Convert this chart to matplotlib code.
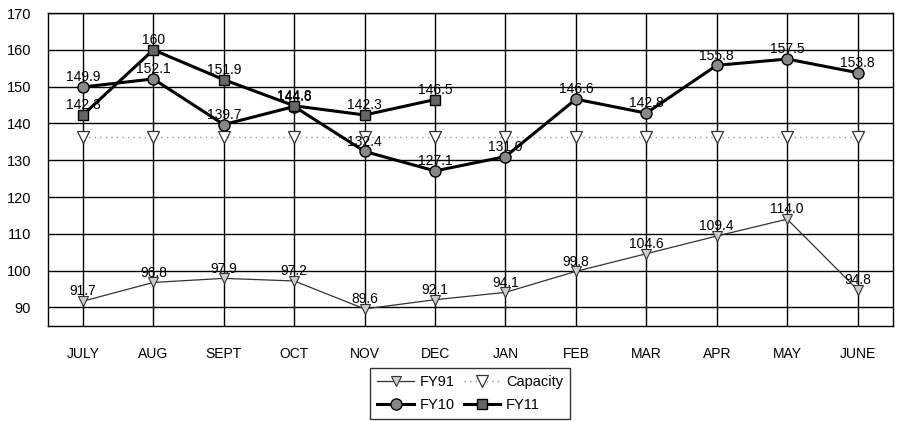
import matplotlib.pyplot as plt

plt.rcParams['font.family'] = ['Liberation Sans', 'DejaVu Sans']

months = ['JULY', 'AUG', 'SEPT', 'OCT', 'NOV', 'DEC', 'JAN', 'FEB', 'MAR', 'APR', 'MAY', 'JUNE']
fy91 = [91.7, 96.8, 97.9, 97.2, 89.6, 92.1, 94.1, 99.8, 104.6, 109.4, 114.0, 94.8]
capacity = [136.3] * 12
fy10 = [149.9, 152.1, 139.7, 144.6, 132.4, 127.1, 131.0, 146.6, 142.8, 155.8, 157.5, 153.8]
fy11 = [142.3, 160, 151.9, 144.8, 142.3, 146.5]
fy11_labels = ['142.3', '160', '151.9', '144.8', '142.3', '146.5']
y_ticks = list(range(90, 171, 10))

x = list(range(len(months)))

fig = plt.figure(figsize=(9, 4.21), dpi=100)
ax = fig.add_axes([0.053, 0.226, 0.939, 0.743])

# grid behind everything
for yt in y_ticks:
    ax.axhline(yt, color='black', lw=1, zorder=0)
for xi in x:
    ax.axvline(xi, color='black', lw=1, zorder=0)

l91, = ax.plot(x, fy91, color='#333333', lw=0.9, marker='v', ms=7,
               mfc='#cccccc', mec='#333333', mew=0.8, label='FY91', zorder=3)
lcap, = ax.plot(x, capacity, color='#999999', lw=1, ls=(0, (1, 3)), marker='v', ms=9,
                mfc='white', mec='#333333', mew=0.9, label='Capacity', zorder=2)
l10, = ax.plot(x, fy10, color='black', lw=2.2, marker='o', ms=8,
               mfc='#888888', mec='black', mew=1, label='FY10', zorder=4)
l11, = ax.plot(x[:len(fy11)], fy11, color='black', lw=2.2, marker='s', ms=7,
               mfc='#666666', mec='black', mew=1, label='FY11', zorder=5)

def put_labels(xs, ys, texts):
    for xi, yi, t in zip(xs, ys, texts):
        ax.annotate(t, (xi, yi), xytext=(0, 2), textcoords='offset points',
                    ha='center', va='bottom', fontsize=10, zorder=6)

put_labels(x, fy91, [f'{v:.1f}' for v in fy91])
put_labels(x, fy10, [f'{v:.1f}' for v in fy10])
put_labels(x[:len(fy11)], fy11, fy11_labels)

ax.set_xlim(-0.5, len(months) - 0.5)
ax.set_ylim(85, 170)
ax.set_yticks(y_ticks)
ax.set_xticks(x)
ax.set_xticklabels(months, fontsize=10)
ax.tick_params(axis='y', labelsize=10.5, length=0, pad=12)
ax.tick_params(axis='x', length=0, pad=15)
for s in ax.spines.values():
    s.set_color('black')
    s.set_linewidth(1)

ax.legend(handles=[l91, l10, lcap, l11], ncol=2, loc='upper center',
          bbox_to_anchor=(0.5, -0.135), frameon=True, fancybox=False,
          edgecolor='black', fontsize=10.5, handlelength=2.5, columnspacing=0.6,
          handletextpad=0.4, borderaxespad=0, labelspacing=0.6, borderpad=0.5)

fig.savefig('out.png', dpi=100)
